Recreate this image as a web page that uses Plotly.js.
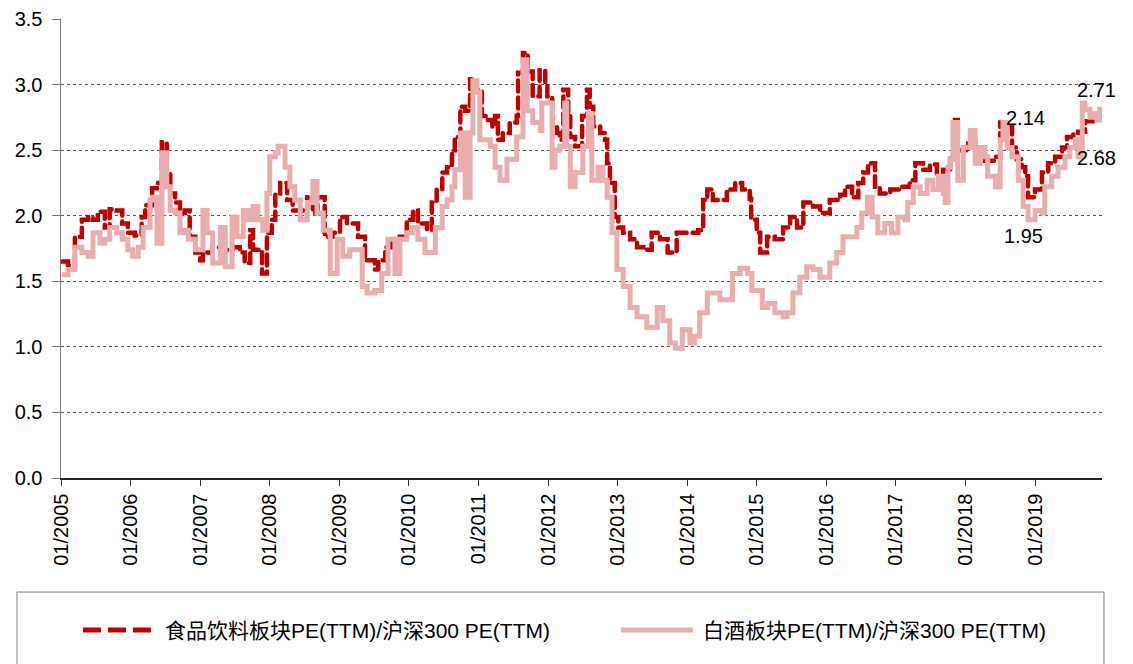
<!DOCTYPE html>
<html>
<head>
<meta charset="utf-8">
<script src="https://cdn.plot.ly/plotly-3.0.1.min.js"></script>
<style>
body{margin:0;padding:0;background:#fff;}
#chart{width:1133px;height:664px;}
.scatterlayer .trace:first-child .js-line{stroke-linecap:round;}
</style>
</head>
<body>
<div id="chart"></div>
<script>
// ---- data (decimal year, ratio) ----
const foodName = "食品饮料板块PE(TTM)/沪深300 PE(TTM)";
const liquorName = "白酒板块PE(TTM)/沪深300 PE(TTM)";

const foodYears = [2005.01,2005.10,2005.20,2005.30,2005.39,2005.46,2005.53,2005.63,2005.70,2005.80,2005.88,2005.96,
2006.06,2006.16,2006.21,2006.31,2006.38,2006.45,2006.52,2006.57,2006.64,2006.71,2006.78,2006.85,2006.93,
2007.00,2007.04,2007.18,2007.33,2007.47,2007.57,2007.64,2007.72,2007.76,2007.89,2007.96,
2008.03,2008.08,2008.15,2008.25,2008.33,2008.44,2008.54,2008.62,2008.69,2008.79,2008.90,
2009.01,2009.11,2009.27,2009.37,2009.51,2009.56,2009.66,2009.76,2009.87,2009.97,
2010.06,2010.13,2010.26,2010.33,2010.40,2010.48,2010.55,2010.62,2010.66,2010.74,2010.81,2010.88,2010.95,
2011.05,2011.12,2011.20,2011.24,2011.28,2011.35,2011.45,2011.55,2011.57,2011.64,2011.71,2011.78,2011.88,2011.96,2011.99,
2012.06,2012.13,2012.17,2012.22,2012.29,2012.32,2012.39,2012.49,2012.56,2012.60,2012.65,2012.75,2012.82,2012.85,2012.89,2012.96,
2013.01,2013.08,2013.18,2013.28,2013.37,2013.49,2013.61,2013.72,2013.85,2013.97,
2014.16,2014.23,2014.29,2014.37,2014.47,2014.57,2014.69,2014.79,2014.90,2014.92,
2015.00,2015.05,2015.15,2015.26,2015.38,2015.48,2015.58,2015.67,2015.81,2015.91,
2016.05,2016.20,2016.27,2016.37,2016.46,2016.53,2016.60,2016.70,2016.77,2016.92,
2017.06,2017.20,2017.28,2017.39,2017.49,2017.59,2017.68,2017.78,2017.85,2017.89,
2018.04,2018.14,2018.28,2018.43,2018.50,2018.60,2018.67,2018.74,2018.81,2018.86,2018.90,
2019.00,2019.10,2019.19,2019.29,2019.39,2019.46,2019.55,2019.62,2019.72,2019.83,2019.93];
const foodPE = [1.65,1.62,1.84,1.97,1.99,1.97,2.03,1.91,2.05,2.04,1.94,1.87,
1.85,1.99,2.08,2.21,2.25,2.56,2.33,2.17,2.10,2.02,2.04,1.84,1.72,
1.66,1.72,1.76,1.74,1.76,1.72,1.64,1.89,1.74,1.56,1.87,
1.97,2.17,2.25,2.12,2.04,2.04,2.14,2.02,2.14,1.84,1.87,
1.99,1.94,1.84,1.66,1.59,1.66,1.76,1.79,1.84,1.97,
2.04,1.94,1.89,2.10,2.20,2.33,2.37,2.50,2.60,2.83,2.80,3.04,2.96,
2.76,2.73,2.68,2.76,2.58,2.63,2.71,2.76,3.09,3.24,3.10,2.91,3.11,3.01,2.91,
2.68,2.63,2.58,2.96,2.76,2.60,2.53,2.76,2.96,2.83,2.68,2.63,2.58,2.40,2.25,1.99,
1.91,1.87,1.82,1.76,1.74,1.87,1.82,1.72,1.87,1.87,
1.89,2.12,2.20,2.12,2.12,2.20,2.25,2.20,2.13,1.97,
1.87,1.72,1.84,1.82,1.91,1.99,1.91,2.10,2.07,2.02,
2.12,2.16,2.22,2.14,2.25,2.33,2.40,2.22,2.17,2.20,
2.22,2.27,2.40,2.35,2.39,2.30,2.35,2.45,2.73,2.50,
2.55,2.48,2.42,2.45,2.71,2.68,2.52,2.43,2.37,2.30,2.14,
2.20,2.33,2.40,2.45,2.52,2.60,2.63,2.64,2.72,2.74,2.78];

const liquorYears = [2005.01,2005.10,2005.20,2005.30,2005.39,2005.46,2005.56,2005.63,2005.70,2005.80,2005.88,2005.96,
2006.03,2006.11,2006.18,2006.28,2006.32,2006.38,2006.45,2006.52,2006.57,2006.64,2006.71,2006.78,2006.83,2006.93,
2007.04,2007.10,2007.18,2007.29,2007.36,2007.46,2007.53,2007.62,2007.69,2007.76,2007.83,2007.90,2007.96,
2008.00,2008.08,2008.12,2008.22,2008.29,2008.36,2008.44,2008.54,2008.62,2008.68,2008.77,2008.87,2008.97,
2009.05,2009.15,2009.23,2009.33,2009.40,2009.51,2009.61,2009.70,2009.80,2009.87,2009.97,
2010.05,2010.13,2010.23,2010.30,2010.38,2010.48,2010.55,2010.62,2010.66,2010.74,2010.81,2010.88,2010.92,2010.98,
2011.02,2011.17,2011.24,2011.31,2011.41,2011.55,2011.64,2011.70,2011.78,2011.89,2011.91,2011.99,
2012.06,2012.10,2012.17,2012.24,2012.27,2012.32,2012.39,2012.50,2012.58,2012.63,2012.72,2012.79,2012.85,2012.92,2012.99,
2013.08,2013.18,2013.28,2013.42,2013.57,2013.65,2013.75,2013.83,2013.93,
2014.04,2014.11,2014.18,2014.29,2014.47,2014.59,2014.65,2014.76,2014.87,2014.93,
2015.08,2015.16,2015.26,2015.38,2015.44,2015.52,2015.62,2015.72,2015.81,2015.91,
2016.05,2016.15,2016.24,2016.34,2016.44,2016.51,2016.59,2016.66,2016.74,2016.84,2016.94,
2017.03,2017.13,2017.17,2017.25,2017.35,2017.45,2017.53,2017.61,2017.68,2017.71,2017.75,2017.78,2017.82,2017.89,2017.97,
2018.07,2018.14,2018.21,2018.28,2018.32,2018.43,2018.50,2018.54,2018.60,2018.67,2018.76,2018.83,2018.90,
2019.00,2019.10,2019.14,2019.24,2019.33,2019.43,2019.50,2019.58,2019.62,2019.68,2019.72,2019.79,2019.83,2019.89,2019.93];
const liquorPE = [1.55,1.59,1.76,1.72,1.69,1.87,1.79,1.82,1.91,1.87,1.82,1.74,
1.69,1.76,1.91,2.12,2.14,1.79,2.48,2.22,2.04,2.02,1.87,1.89,1.82,1.74,
2.04,1.87,1.64,1.91,1.61,1.99,1.84,2.04,1.97,2.07,1.97,1.89,2.17,
2.45,2.48,2.53,2.37,2.22,2.12,1.97,2.10,2.26,2.02,1.89,1.56,1.82,
1.69,1.74,1.74,1.46,1.41,1.43,1.56,1.82,1.56,1.82,1.87,
1.91,1.82,1.72,1.72,1.91,2.07,2.12,2.22,2.35,2.63,2.14,2.63,3.03,2.94,
2.58,2.53,2.37,2.27,2.43,2.60,3.19,2.80,2.71,2.65,2.86,2.86,
2.37,2.50,2.53,2.86,2.53,2.22,2.33,2.53,2.78,2.27,2.37,2.27,2.14,1.87,1.59,
1.46,1.30,1.23,1.15,1.30,1.20,1.03,0.99,1.13,
1.03,1.08,1.26,1.41,1.36,1.36,1.56,1.60,1.56,1.43,
1.30,1.33,1.26,1.23,1.26,1.41,1.53,1.61,1.59,1.53,
1.64,1.72,1.84,1.84,1.91,2.02,2.14,1.99,1.87,1.94,1.87,
1.99,1.97,2.10,2.22,2.17,2.27,2.20,2.30,2.17,2.10,2.37,2.43,2.71,2.27,2.52,
2.65,2.40,2.52,2.45,2.30,2.22,2.58,2.71,2.52,2.45,2.27,2.07,1.97,
2.04,2.02,2.22,2.30,2.37,2.45,2.52,2.58,2.45,2.86,2.81,2.75,2.78,2.73,2.83];

const tickYears = [2005,2006,2007,2008,2009,2010,2011,2012,2013,2014,2015,2016,2017,2018,2019];
const tickLabels = ["01/2005","01/2006","01/2007","01/2008","01/2009","01/2010","01/2011","01/2012","01/2013","01/2014","01/2015","01/2016","01/2017","01/2018","01/2019"];
const noteLabels = ["2.14","2.71","2.68","1.95"];

const RED = "#C00000", PINK = "#E8ADAD";
const FONT = "Liberation Sans, Arial, Noto Sans CJK SC, sans-serif";

const traces = [
  {x: foodYears, y: foodPE, name: foodName, type: "scatter", mode: "lines",
   line: {color: RED, width: 4.5, dash: "11px,6px", shape: "hv"}, showlegend: false, hoverinfo: "skip"},
  {x: liquorYears, y: liquorPE, name: liquorName, type: "scatter", mode: "lines",
   line: {color: PINK, width: 5, shape: "hv"}, showlegend: false, hoverinfo: "skip"}
];

const layout = {
  width: 1133, height: 664,
  margin: {l: 61, r: 31, t: 19, b: 186},
  paper_bgcolor: "#fff", plot_bgcolor: "#fff",
  font: {family: FONT, color: "#000"},
  showlegend: false,
  xaxis: {
    range: [2005, 2019.963], tickmode: "array", tickvals: tickYears, ticktext: tickLabels,
    tickangle: -90, tickfont: {size: 20, family: FONT, color: "#000"},
    ticks: "outside", ticklen: 6, tickcolor: "#333", tickwidth: 1,
    showgrid: false, zeroline: false, showline: true, linecolor: "#222", linewidth: 1.5
  },
  yaxis: {
    range: [0, 3.5], dtick: 0.5, tick0: 0, tickformat: ".1f",
    tickfont: {size: 20, family: FONT, color: "#000"}, ticklabelstandoff: 5,
    ticks: "outside", ticklen: 8, tickcolor: "#777", tickwidth: 1,
    showgrid: true, gridcolor: "#555", griddash: "dot", gridwidth: 1,
    zeroline: false, showline: true, linecolor: "#7f7f7f", linewidth: 1.5
  },
  shapes: [
    {type: "rect", xref: "paper", yref: "paper", x0: -0.0423, x1: 1.0019, y0: -0.49, y1: -0.2484,
     line: {color: "#808080", width: 1}, fillcolor: "rgba(0,0,0,0)"},
    {type: "line", xref: "paper", yref: "paper", x0: 0.0211, x1: 0.0884, y0: -0.3312, y1: -0.3312,
     line: {color: RED, width: 5, dash: "18px,7px"}},
    {type: "line", xref: "paper", yref: "paper", x0: 0.5379, x1: 0.6071, y0: -0.3312, y1: -0.3312,
     line: {color: PINK, width: 5}}
  ],
  annotations: [
    {xref: "paper", yref: "paper", x: 0.0980, y: -0.3312, xanchor: "left", yanchor: "middle",
     text: foodName, showarrow: false, font: {size: 21, family: FONT, color: "#000"}},
    {xref: "paper", yref: "paper", x: 0.6148, y: -0.3312, xanchor: "left", yanchor: "middle",
     text: liquorName, showarrow: false, font: {size: 21, family: FONT, color: "#000"}},
    {x: 2018.87, y: 2.745, text: noteLabels[0], showarrow: false, xanchor: "center", yanchor: "middle", font: {size: 20, color: "#000"}},
    {x: 2019.877, y: 2.959, text: noteLabels[1], showarrow: false, xanchor: "center", yanchor: "middle", font: {size: 20, color: "#000"}},
    {x: 2019.89, y: 2.44, text: noteLabels[2], showarrow: false, xanchor: "center", yanchor: "middle", font: {size: 20, color: "#000"}},
    {x: 2018.84, y: 1.845, text: noteLabels[3], showarrow: false, xanchor: "center", yanchor: "middle", font: {size: 20, color: "#000"}}
  ]
};

Plotly.newPlot("chart", traces, layout, {displayModeBar: false, staticPlot: true});
</script>
</body>
</html>
